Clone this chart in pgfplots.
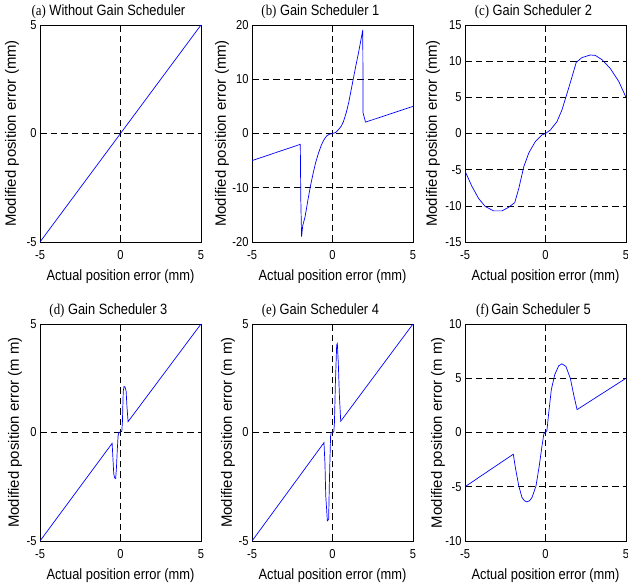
\documentclass[border=0pt]{standalone}
\usepackage{fontspec}
\setmainfont{Liberation Sans}[FakeStretch=0.86]
\newfontfamily\serifp{Liberation Serif}[FakeStretch=0.86]
\newfontfamily\ylabfont{Liberation Sans}
\usepackage{pgfplots}
\pgfplotsset{compat=1.18}
\pgfplotsset{
 gs/.style={
  scale only axis, width=161bp, height=217bp, anchor=south west,
  xmin=-5, xmax=5, xtick={-5,0,5},
  no markers,
  grid=major,
  major grid style={black, line width=0.6bp, dash pattern=on 6.5bp off 4bp},
  axis line style={black, line width=0.8bp},
  tick align=inside, major tick length=3bp, tick style={black, line width=0.6bp},
  /pgf/number format/assume math mode=true,
  tick label style={font=\fontsize{13}{15}\selectfont},
  xticklabel style={anchor=center, yshift=-13bp},
  xlabel={Actual position error (mm)},
  xlabel style={font=\fontsize{15}{17}\selectfont, at={(axis description cs:0.5,-0.16)}, anchor=center},
  ylabel style={font=\ylabfont\fontsize{15}{17}\selectfont, anchor=center},
  every axis title/.style={font=\fontsize{15}{17}\selectfont, at={(axis description cs:0.425,1.06)}, anchor=center},
  every axis plot/.append style={color=blue, line width=0.7bp},
 }
}
\begin{document}
\begin{tikzpicture}[x=1bp,y=1bp]
\useasboundingbox (0,0) rectangle (628bp,588bp);
% (a)
\begin{axis}[gs, at={(40bp,346bp)}, ymin=-5, ymax=5, ytick={-5,0,5},
  title={{\serifp (a)} Without Gain Scheduler},
  ylabel={Modified position error (mm)},
  ylabel style={at={(axis description cs:-0.174,0.5)}}]
\addplot coordinates {(-5,-5) (5,5)};
\end{axis}
% (b)
\begin{axis}[gs, at={(252bp,346bp)}, ymin=-20, ymax=20, ytick={-20,-10,0,10,20},
  title={{\serifp (b)} Gain Scheduler 1},
  ylabel={Modified position error (mm)},
  ylabel style={at={(axis description cs:-0.186,0.5)}}]
\addplot coordinates {(-5,-5) (-2,-2) (-1.97,-12) (-1.92,-19) (-1.85,-17) (-1.7,-15.3) (-1.5,-11.8) (-1.35,-9.4) (-1.2,-7.3) (-1.05,-5.4) (-0.87,-3.6) (-0.7,-2.2) (-0.56,-1.3) (-0.45,-0.8) (-0.36,-0.45) (-0.2,-0.15) (0,0) (0.2,0.2) (0.37,0.7) (0.55,1.4) (0.68,2.2) (0.85,3.8) (1.0,5.6) (1.15,7.9) (1.3,10.2) (1.45,12.5) (1.61,14.8) (1.75,17.0) (1.88,19.1) (1.9,3.8) (2.05,2.1) (5,5)};
\end{axis}
% (c)
\begin{axis}[gs, at={(465bp,346bp)}, ymin=-15, ymax=15, ytick={-15,-10,-5,0,5,10,15},
  title={{\serifp (c)} Gain Scheduler 2},
  ylabel={Modified position error (mm)},
  ylabel style={at={(axis description cs:-0.199,0.5)}}]
\addplot coordinates {(-5,-5.2) (-4.56,-7.35) (-4.15,-9.0) (-3.74,-10.1) (-3.22,-10.7) (-2.7,-10.7) (-2.29,-10.2) (-1.91,-9.56) (-1.66,-7.6) (-1.35,-4.6) (-1.04,-2.7) (-0.63,-1.1) (-0.22,-0.2) (0,0) (0.3,0.48) (0.71,1.63) (1.02,3.25) (1.34,5.56) (1.65,7.86) (1.91,9.84) (2.27,10.5) (2.78,10.85) (3.09,10.8) (3.51,10.2) (4.02,9.0) (4.55,7.2) (5,5)};
\end{axis}
% (d)
\begin{axis}[gs, at={(40bp,47bp)}, ymin=-5, ymax=5, ytick={-5,0,5},
  title={{\serifp (d)} Gain Scheduler 3},
  ylabel={Modified position error (m m)},
  ylabel style={at={(axis description cs:-0.155,0.5)}}]
\addplot coordinates {(-5,-5) (-0.52,-0.5) (-0.47,-1.2) (-0.42,-1.9) (-0.36,-2.1) (-0.3,-2.12) (-0.25,-1.6) (-0.2,-0.8) (-0.15,-0.15) (-0.1,0) (0.08,0.05) (0.12,0.5) (0.17,1.9) (0.22,2.12) (0.28,2.1) (0.35,1.9) (0.4,1.2) (0.47,0.5) (5,5)};
\end{axis}
% (e)
\begin{axis}[gs, at={(252bp,47bp)}, ymin=-5, ymax=5, ytick={-5,0,5},
  title={{\serifp (e)} Gain Scheduler 4},
  ylabel={Modified position error (m m)},
  ylabel style={at={(axis description cs:-0.149,0.5)}}]
\addplot coordinates {(-5,-5) (-0.53,-0.47) (-0.47,-1.4) (-0.42,-2.9) (-0.32,-4.07) (-0.24,-4.0) (-0.19,-2.16) (-0.12,-0.17) (-0.08,0) (0.08,0.02) (0.12,0.44) (0.18,2.28) (0.26,4.04) (0.3,4.1) (0.36,3.2) (0.43,1.67) (0.51,0.52) (5,5)};
\end{axis}
% (f)
\begin{axis}[gs, at={(465bp,47bp)}, ymin=-10, ymax=10, ytick={-10,-5,0,5,10},
  title={{\serifp (f)}\,Gain Scheduler 5},
  ylabel={Modified position error (m m)},
  ylabel style={at={(axis description cs:-0.168,0.5)}}]
\addplot coordinates {(-5,-5) (-2,-2) (-1.87,-3.24) (-1.66,-4.92) (-1.46,-6.0) (-1.3,-6.3) (-1.15,-6.39) (-1.0,-6.3) (-0.84,-6.0) (-0.59,-4.92) (-0.39,-3.09) (-0.22,-1.26) (-0.1,-0.1) (0,0) (0.09,0.2) (0.2,1.8) (0.36,3.94) (0.57,5.32) (0.82,6.15) (1.02,6.33) (1.27,6.08) (1.54,5.0) (1.75,3.49) (1.96,2.11) (5,5)};
\end{axis}
\end{tikzpicture}
\end{document}
